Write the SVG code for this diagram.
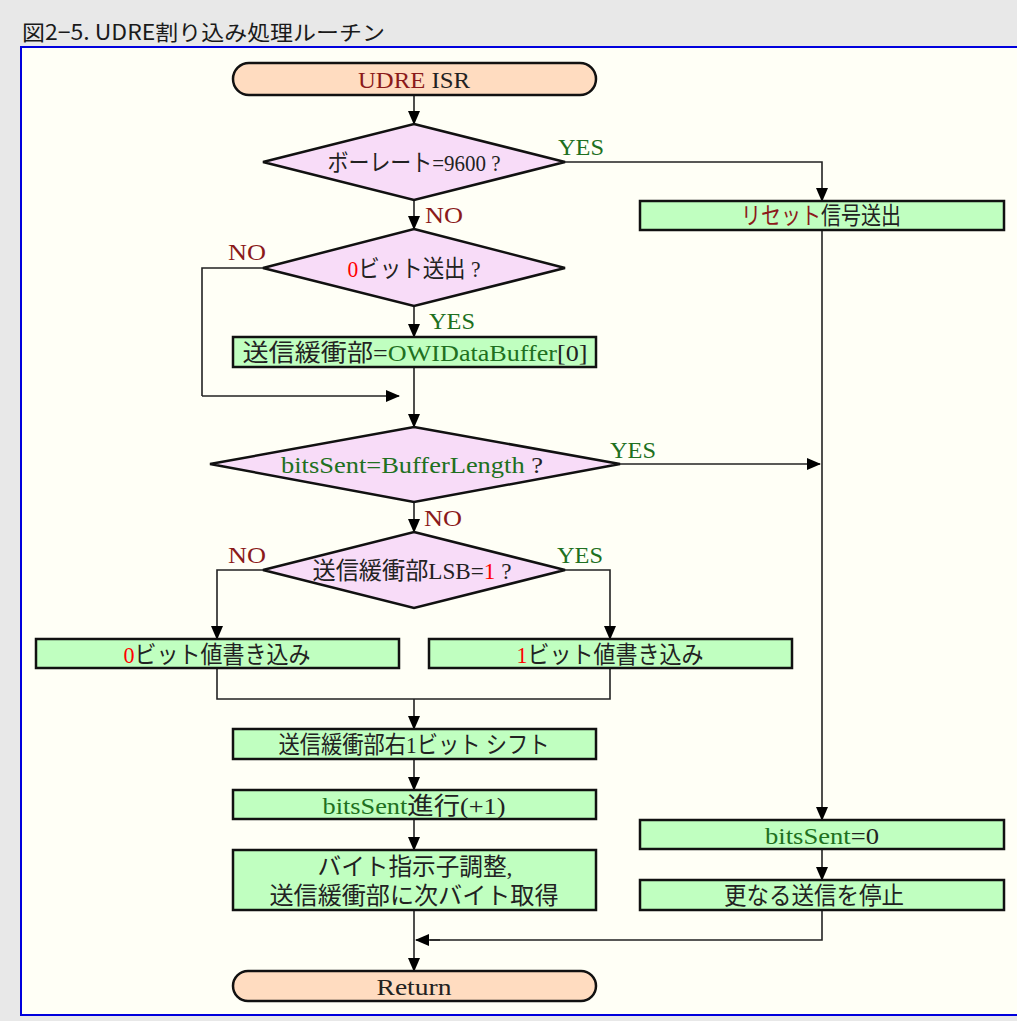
<svg xmlns="http://www.w3.org/2000/svg" width="1017" height="1021" viewBox="0 0 1017 1021">
<style>
.t{font-family:"Liberation Serif","Noto Sans CJK JP",serif;font-size:24px;fill:#222;text-anchor:middle}
.term{fill:#ffdcc0;stroke:#111;stroke-width:2.5}
.dec{fill:#f8dcf8;stroke:#111;stroke-width:2.5}
.box{fill:#c0ffc0;stroke:#111;stroke-width:2.5}
.c{fill:none;stroke:#222;stroke-width:1.6}
.ca{fill:none;stroke:#222;stroke-width:1.6;marker-end:url(#ah)}
.yes{fill:#207020}
.no{fill:#8b1a1a}
.r{fill:#ff0000}
.g{fill:#207020}
.lbl{font-family:"Liberation Serif","Noto Sans CJK JP",serif;font-size:24px}
</style>
<defs>
<marker id="ah" markerUnits="userSpaceOnUse" markerWidth="14" markerHeight="12" refX="13" refY="6" orient="auto">
<path d="M0,0 L14,6 L0,12 Z" fill="#000"/>
</marker>
</defs>
<rect x="0" y="0" width="1017" height="1021" fill="#e8e8e8"/>
<text x="22" y="40" font-family="'Noto Sans CJK JP','Noto Sans',sans-serif" font-size="21" font-weight="400" fill="#1a1a1a" textLength="363" lengthAdjust="spacingAndGlyphs">図2−5. UDRE割り込み処理ルーチン</text>
<rect x="21" y="47" width="1010" height="968" fill="#fffff6" stroke="#0000dd" stroke-width="2"/>

<g id="connectors">
<path class="ca" d="M414,95 V124"/>
<path class="ca" d="M565,162 H822 V201"/>
<path class="ca" d="M414,200 V229"/>
<path class="c" d="M263,268 H202 V396"/>
<path class="ca" d="M202,396 H399"/>
<path class="ca" d="M414,306 V337"/>
<path class="ca" d="M414,367 V427"/>
<path class="ca" d="M620,464 H820"/>
<path class="ca" d="M822,230 V820"/>
<path class="ca" d="M414,502 V532"/>
<path class="ca" d="M263,570 H217 V639"/>
<path class="ca" d="M565,570 H610 V639"/>
<path class="c" d="M217,668 V699 H610 V668"/>
<path class="ca" d="M414,699 V729"/>
<path class="ca" d="M414,759 V790"/>
<path class="ca" d="M414,819 V850"/>
<path class="ca" d="M414,910 V971"/>
<path class="ca" d="M822,849 V880"/>
<path class="c" d="M822,910 V940 H430"/>
<path class="ca" d="M440,940 H416"/>
</g>

<g class="lbl">
<text x="558" y="155" class="yes" textLength="46" lengthAdjust="spacingAndGlyphs">YES</text>
<text x="425" y="223" class="no" textLength="38" lengthAdjust="spacingAndGlyphs">NO</text>
<text x="228" y="260" class="no" textLength="38" lengthAdjust="spacingAndGlyphs">NO</text>
<text x="429" y="329" class="yes" textLength="46" lengthAdjust="spacingAndGlyphs">YES</text>
<text x="610" y="458" class="yes" textLength="46" lengthAdjust="spacingAndGlyphs">YES</text>
<text x="424" y="526" class="no" textLength="38" lengthAdjust="spacingAndGlyphs">NO</text>
<text x="228" y="563" class="no" textLength="38" lengthAdjust="spacingAndGlyphs">NO</text>
<text x="557" y="563" class="yes" textLength="46" lengthAdjust="spacingAndGlyphs">YES</text>
</g>

<g id="start">
<rect class="term" x="233" y="63" width="363" height="32" rx="16"/>
<text class="t" x="414" y="88" textLength="112" lengthAdjust="spacingAndGlyphs"><tspan class="no">UDRE</tspan> ISR</text>
</g>
<g id="d_baud">
<polygon class="dec" points="414,124 565,162 414,200 263,162"/>
<text class="t" x="414" y="171" textLength="173" lengthAdjust="spacingAndGlyphs">ボーレート=9600 ?</text>
</g>
<g id="p_reset">
<rect class="box" x="640" y="201" width="364" height="29"/>
<text class="t" x="821" y="224" textLength="160" lengthAdjust="spacingAndGlyphs"><tspan class="no">リセット</tspan>信号送出</text>
</g>
<g id="d_bit0">
<polygon class="dec" points="414,229 565,268 414,306 263,268"/>
<text class="t" x="414" y="277" textLength="133" lengthAdjust="spacingAndGlyphs"><tspan class="r">0</tspan>ビット送出 ?</text>
</g>
<g id="p_load">
<rect class="box" x="233" y="337" width="363" height="30"/>
<text class="t" x="415" y="361" textLength="345" lengthAdjust="spacingAndGlyphs">送信緩衝部=<tspan class="g">OWIDataBuffer</tspan>[0]</text>
</g>
<g id="d_len">
<polygon class="dec" points="414,427 620,464 414,502 210,464"/>
<text class="t" x="412" y="473" textLength="262" lengthAdjust="spacingAndGlyphs"><tspan class="g">bitsSent=BufferLength</tspan> ?</text>
</g>
<g id="d_lsb">
<polygon class="dec" points="414,532 565,570 414,608 263,570"/>
<text class="t" x="412" y="579" textLength="199" lengthAdjust="spacingAndGlyphs">送信緩衝部LSB=<tspan class="r">1</tspan> ?</text>
</g>
<g id="p_w0">
<rect class="box" x="36" y="639" width="363" height="29"/>
<text class="t" x="217" y="663" textLength="187" lengthAdjust="spacingAndGlyphs"><tspan class="r">0</tspan>ビット値書き込み</text>
</g>
<g id="p_w1">
<rect class="box" x="429" y="639" width="363" height="29"/>
<text class="t" x="610" y="663" textLength="187" lengthAdjust="spacingAndGlyphs"><tspan class="r">1</tspan>ビット値書き込み</text>
</g>
<g id="p_shift">
<rect class="box" x="233" y="729" width="363" height="30"/>
<text class="t" x="414" y="753" textLength="271" lengthAdjust="spacingAndGlyphs">送信緩衝部右1ビット シフト</text>
</g>
<g id="p_inc">
<rect class="box" x="233" y="790" width="363" height="29"/>
<text class="t" x="414" y="814" textLength="183" lengthAdjust="spacingAndGlyphs"><tspan class="g">bitsSent</tspan>進行(+1)</text>
</g>
<g id="p_next">
<rect class="box" x="233" y="850" width="363" height="60"/>
<text class="t" x="415" y="875" textLength="195" lengthAdjust="spacingAndGlyphs">バイト指示子調整,</text>
<text class="t" x="414" y="904" textLength="289" lengthAdjust="spacingAndGlyphs">送信緩衝部に次バイト取得</text>
</g>
<g id="p_zero">
<rect class="box" x="640" y="820" width="364" height="29"/>
<text class="t" x="822" y="844" textLength="114" lengthAdjust="spacingAndGlyphs"><tspan class="g">bitsSent</tspan>=0</text>
</g>
<g id="p_stop">
<rect class="box" x="640" y="880" width="364" height="30"/>
<text class="t" x="814" y="904" textLength="180" lengthAdjust="spacingAndGlyphs">更なる送信を停止</text>
</g>
<g id="end">
<rect class="term" x="233" y="971" width="363" height="30" rx="15"/>
<text class="t" x="414" y="995" textLength="75" lengthAdjust="spacingAndGlyphs">Return</text>
</g>
</svg>
